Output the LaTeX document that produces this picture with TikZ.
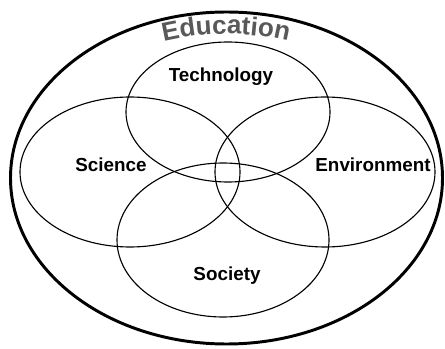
\documentclass[tikz,border=0pt]{standalone}
\usepackage{fontspec}
\setmainfont{Liberation Sans}
\usetikzlibrary{decorations.text}

\tikzset{
  topic/.style={draw, line width=0.8pt},
  topiclabel/.style={font=\bfseries\fontsize{13.4}{15}\selectfont, inner sep=0pt},
}

\begin{document}
\begin{tikzpicture}[x=0.025cm, y=0.025cm]
  \useasboundingbox (0,0) rectangle (445,348);

  % Education (outer ellipse)
  \draw[line width=2.1pt] (226.5,170) ellipse [x radius=216, y radius=166];
  \path[decorate, decoration={text along path, text align=center,
        text={|\bfseries\fontsize{18.5}{20}\selectfont\color{black!65}|Education}}]
    (226,170) ++(120:200 and 144) arc [start angle=120, end angle=60,
      x radius=200, y radius=144];

  % the four topics
  \draw[topic] (228,236) ellipse [x radius=102, y radius=70];
  \draw[topic] (130,176) ellipse [x radius=110, y radius=75];
  \draw[topic] (325,176) ellipse [x radius=110, y radius=75];
  \draw[topic] (223,108) ellipse [x radius=106, y radius=77];

  \node[topiclabel] (technology) at (221,271) {Technology};
  \node[topiclabel] (science) at (111,183) {Science};
  \node[topiclabel] (environment) at (373,183) {Environment};
  \node[topiclabel] (society) at (227,72) {Society};
\end{tikzpicture}
\end{document}
